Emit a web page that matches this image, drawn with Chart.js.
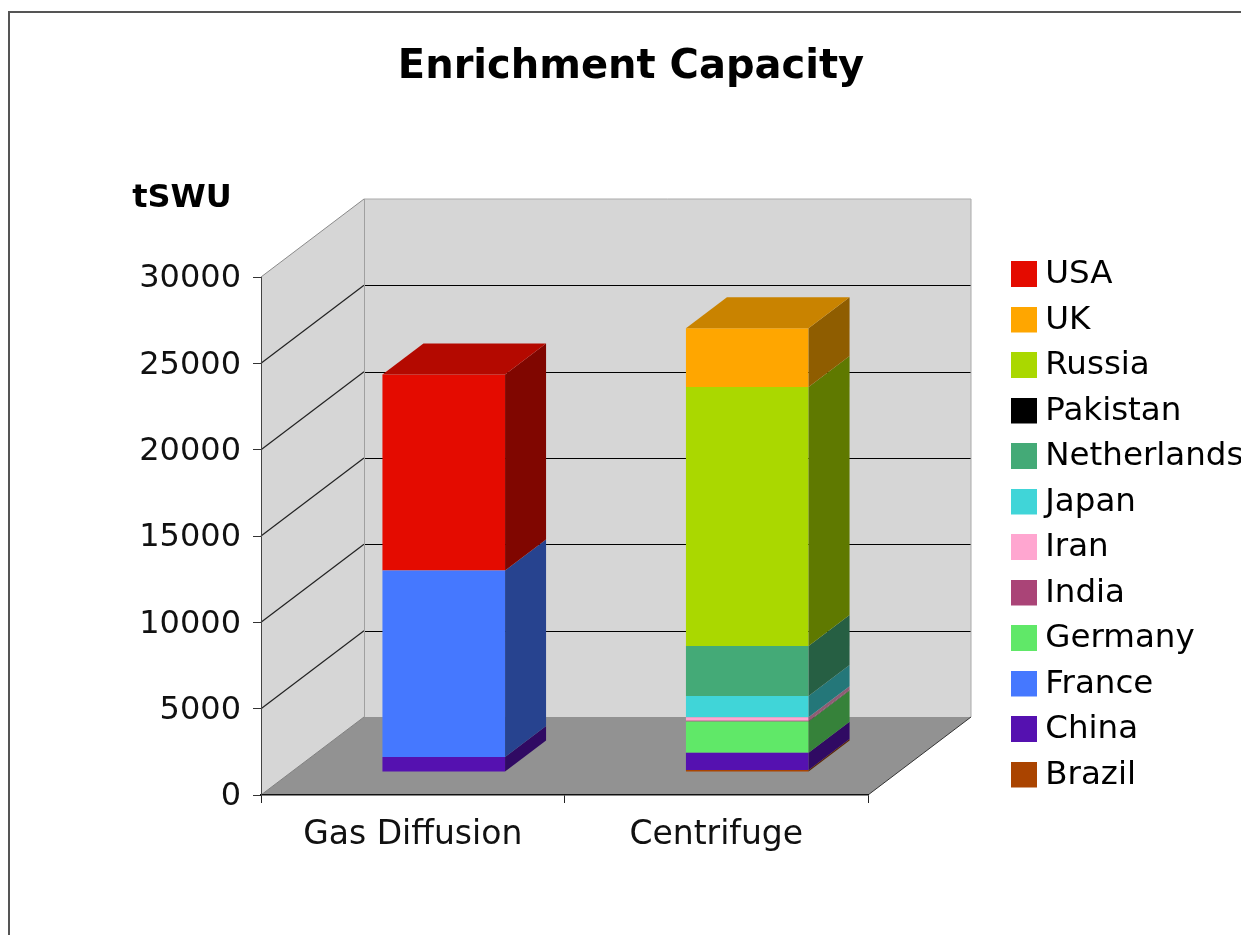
<!DOCTYPE html>
<html>
<head>
<meta charset="utf-8">
<title>Enrichment Capacity</title>
<style>html,body{margin:0;padding:0;background:#fff;overflow:hidden}canvas{display:block;filter:blur(0.5px)}</style>
<script src="https://cdn.jsdelivr.net/npm/chart.js@4/dist/chart.umd.min.js"></script>
</head>
<body>
<canvas id="c" width="1241" height="935"></canvas>
<script>
const categories = ['Gas Diffusion', 'Centrifuge'];
const seriesNames = ['Brazil','China','France','Germany','India','Iran','Japan','Netherlands','Pakistan','Russia','UK','USA'];
const brazil      = [0, 120];
const china       = [870, 1000];
const france      = [10800, 0];
const germany     = [0, 1800];
const india       = [0, 50];
const iran        = [0, 200];
const japan       = [0, 1230];
const netherlands = [0, 2900];
const pakistan    = [0, 0];
const russia      = [0, 15000];
const uk          = [0, 3400];
const usa         = [11350, 0];
const seriesValues = [brazil, china, france, germany, india, iran, japan, netherlands, pakistan, russia, uk, usa];
const seriesColors = ['#AA4400','#5511B0','#4578FF','#60E868','#AA4477','#FFA6D0','#40D5D8','#44AA77','#000000','#AAD800','#FFA600','#E40B00'];
const yTicksMax = 30000, yStep = 5000;

const FONT = '"DejaVu Sans", sans-serif';
const DX = 103, DY = 78;         // depth of the box
const BAR_DX = 41, BAR_DY = 31;  // depth of each bar
const SHIFT_X = 31, SHIFT_Y = 23;// bar offset inside the box

function shade(hex, f) {
  const n = parseInt(hex.slice(1), 16);
  const c = s => Math.round(((n >> s) & 255) * f);
  return `rgb(${c(16)},${c(8)},${c(0)})`;
}
function poly(ctx, pts, fill, stroke) {
  ctx.beginPath();
  pts.forEach((p, i) => i ? ctx.lineTo(p[0], p[1]) : ctx.moveTo(p[0], p[1]));
  ctx.closePath();
  if (fill) { ctx.fillStyle = fill; ctx.fill(); }
  if (stroke) { ctx.strokeStyle = stroke; ctx.lineWidth = 1; ctx.stroke(); }
}
function line(ctx, x1, y1, x2, y2, color, w) {
  ctx.beginPath(); ctx.moveTo(x1, y1); ctx.lineTo(x2, y2);
  ctx.strokeStyle = color; ctx.lineWidth = w || 1; ctx.stroke();
}
// Legend swatch: a 26px square placed so it sits beside the text as in the original
function swatch(color) {
  const c = document.createElement('canvas');
  c.width = 34; c.height = 28;
  const x = c.getContext('2d');
  x.fillStyle = color;
  x.fillRect(8, 0, 26, 26);
  return c;
}

const box3d = {
  id: 'box3d',
  afterInit(chart) {
    const l = chart.legend, fit = l.fit;
    l.fit = function () { fit.call(this); this.width = 373; };
  },
  afterLayout(chart) {
    const t = chart.titleBlock; t.left = 21; t.right = 1241;
    const l = chart.legend;
    const w = l.width, h = l.height;
    l.left = 998; l.right = l.left + w; l.top = 245.75; l.bottom = l.top + h;
  },
  beforeDraw(chart) {
    const ctx = chart.ctx, a = chart.chartArea, y = chart.scales.y;
    const L = a.left, R = a.right, T = a.top, B = a.bottom;
    ctx.save();
    // page frame
    line(ctx, 9, 12, 9, 935, '#555', 2);
    line(ctx, 8, 12, 1241, 12, '#555', 2);
    // walls and floor
    poly(ctx, [[L+DX,T-DY],[R+DX,T-DY],[R+DX,B-DY],[L+DX,B-DY]], '#D6D6D6');
    poly(ctx, [[L,B],[L,T],[L+DX,T-DY],[L+DX,B-DY]], '#D6D6D6');
    poly(ctx, [[L,B],[R,B],[R+DX,B-DY],[L+DX,B-DY]], '#929292');
    for (let v = yStep; v < yTicksMax; v += yStep) {
      const p = y.getPixelForValue(v);
      line(ctx, L, p, L+DX, p-DY, '#222', 1.2);
      const q = Math.round(p - DY) + 0.5;
      line(ctx, L+DX, q, R+DX, q, '#000', 1.2);
    }
    line(ctx, L, T, L+DX, T-DY, '#8a8a8a');
    line(ctx, L+DX, T-DY, R+DX, T-DY, '#aaa');
    line(ctx, R+DX, T-DY, R+DX, B-DY, '#aaa');
    line(ctx, L+DX+0.5, T-DY, L+DX+0.5, B-DY, '#a0a0a0');
    line(ctx, L, B, L+DX, B-DY, '#808080');
    line(ctx, R, B, R+DX, B-DY, '#333');
    ctx.restore();
  },
  beforeDatasetsDraw(chart) {
    chart.ctx.save();
    chart.ctx.translate(SHIFT_X, -SHIFT_Y);
  },
  afterDatasetsDraw(chart) {
    const ctx = chart.ctx;
    categories.forEach((_, i) => {
      let top = null;
      chart.data.datasets.forEach((ds, d) => {
        const el = chart.getDatasetMeta(d).data[i];
        if (!ds.data[i]) return;
        const r = el.x + el.width / 2;
        const color = ds.backgroundColor;
        poly(ctx, [[r, el.base],[r, el.y],[r+BAR_DX, el.y-BAR_DY],[r+BAR_DX, el.base-BAR_DY]], shade(color, 0.56));
        top = {el, color};
      });
      const {el, color} = top;
      const l = el.x - el.width / 2, r = el.x + el.width / 2;
      poly(ctx, [[l, el.y],[r, el.y],[r+BAR_DX, el.y-BAR_DY],[l+BAR_DX, el.y-BAR_DY]], shade(color, 0.79));
    });
    ctx.restore();
  },
  afterDraw(chart) {
    const ctx = chart.ctx;
    ctx.save();
    ctx.font = 'bold 32px ' + FONT;
    ctx.fillStyle = '#000';
    ctx.textAlign = 'center';
    ctx.textBaseline = 'middle';
    ctx.fillText('tSWU', 182, 199);
    ctx.restore();
  }
};

new Chart(document.getElementById('c'), {
  type: 'bar',
  data: {
    labels: categories,
    datasets: seriesNames.map((name, i) => ({
      label: name,
      data: seriesValues[i],
      backgroundColor: seriesColors[i],
      borderWidth: 0,
      categoryPercentage: 1,
      barPercentage: 0.404
    }))
  },
  plugins: [box3d],
  options: {
    responsive: false,
    animation: false,
    events: [],
    layout: { padding: 0 },
    scales: {
      x: {
        stacked: true,
        offset: true,
        grid: { display: true, drawOnChartArea: false, drawTicks: true, tickLength: 8, color: '#222' },
        border: { display: true, color: '#111', width: 1.5 },
        ticks: { color: '#111', font: { family: FONT, size: 33 }, padding: 13, maxRotation: 0 },
        afterFit(s) { s.height = 140; }
      },
      y: {
        stacked: true,
        min: 0,
        max: yTicksMax,
        grid: { display: true, drawOnChartArea: false, drawTicks: true, tickLength: 8, color: '#333' },
        border: { display: true, color: '#444', width: 1 },
        ticks: { stepSize: yStep, color: '#111', font: { family: FONT, size: 32 }, padding: 12, labelOffset: 2, callback: v => String(v) },
        afterFit(s) { s.width = 261; }
      }
    },
    plugins: {
      title: {
        display: true,
        text: 'Enrichment Capacity',
        color: '#000',
        font: { family: FONT, size: 40, weight: 'bold' },
        padding: { top: 44, bottom: 185 }
      },
      legend: {
        display: true,
        position: 'right',
        align: 'start',
        reverse: true,
        labels: {
          color: '#111',
          font: { family: FONT, size: 32.5 },
          boxWidth: 18,
          boxHeight: 18,
          usePointStyle: true,
          padding: 13,
          generateLabels(chart) {
            return chart.data.datasets.map((ds, i) => ({
              text: ds.label,
              fillStyle: ds.backgroundColor,
              strokeStyle: ds.backgroundColor,
              lineWidth: 0,
              pointStyle: swatch(ds.backgroundColor),
              datasetIndex: i
            }));
          }
        }
      },
      tooltip: { enabled: false }
    }
  }
});
</script>
</body>
</html>
